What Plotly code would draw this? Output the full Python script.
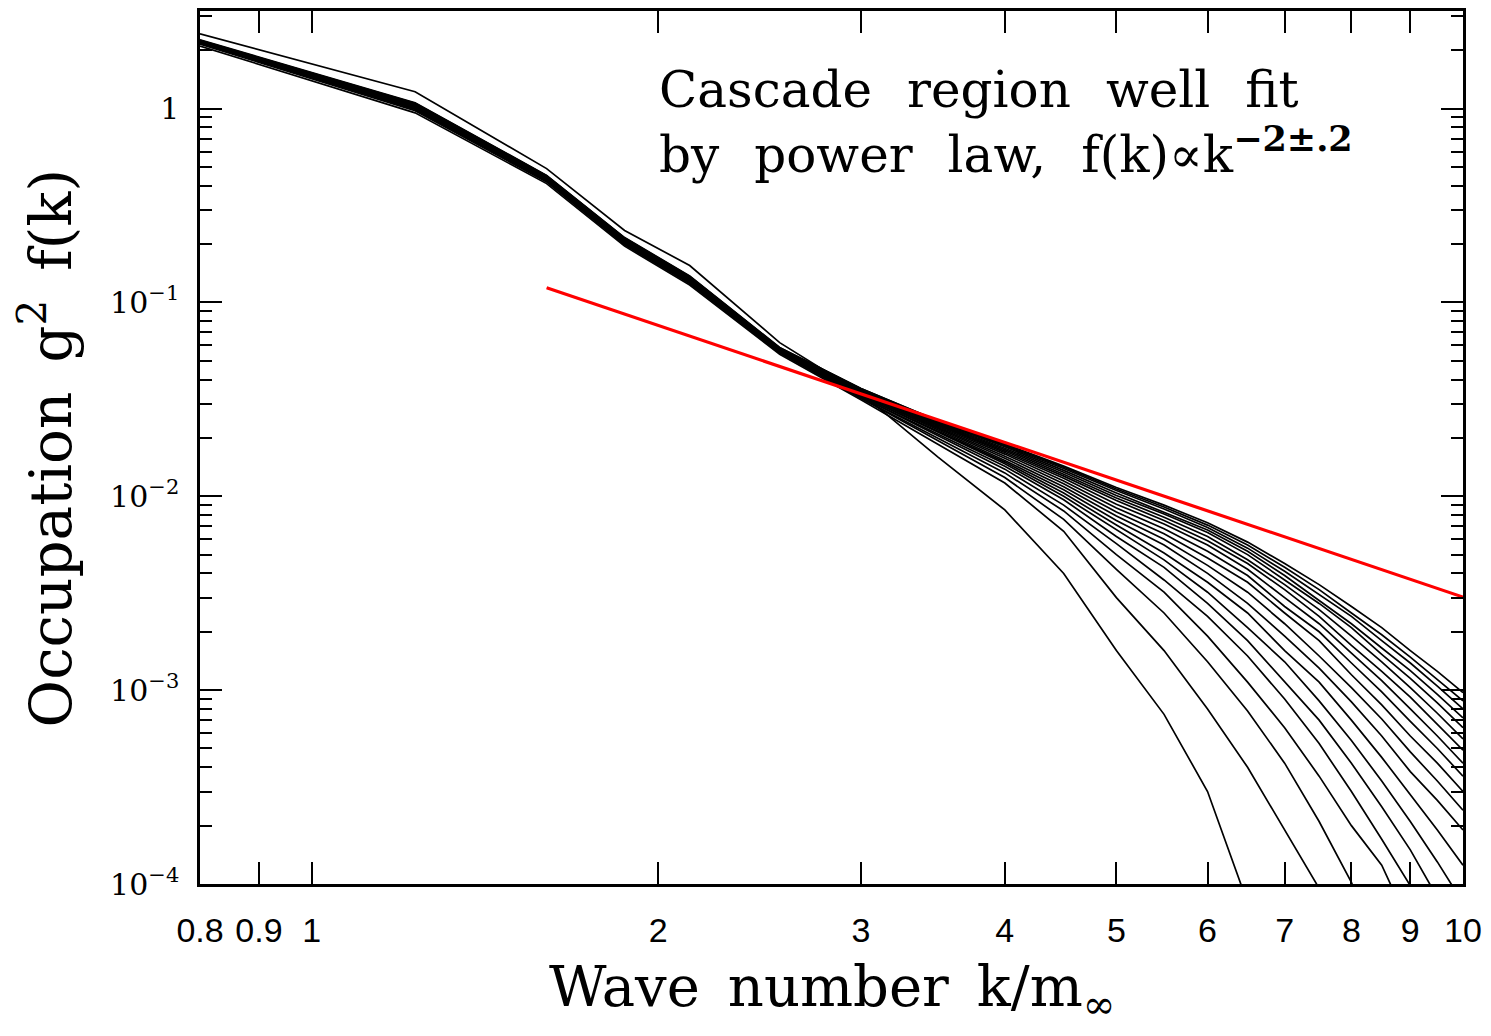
import plotly.graph_objects as go

# wave numbers k/m_inf at which the spectra are sampled
k = [0.8, 1.23, 1.6, 1.87, 2.13, 2.55, 3.0, 3.5, 4.0, 4.5, 5.0, 5.5, 6.0, 6.5,
     7.0, 7.5, 8.0, 8.5, 9.0, 9.5, 10.0]

# occupation g^2 f(k) for successive times
curve_01 = [2.26, 1.07, 0.452, 0.216, 0.137, 0.0585, 0.036, 0.0245, 0.0186, 0.0143, 0.0111, 0.0090, 0.0073, 0.0058, 0.0045, 0.0035, 0.0027, 0.0021, 0.0016, 0.00125, 0.00097]
curve_02 = [2.25, 1.065, 0.450, 0.215, 0.136, 0.0583, 0.036, 0.0244, 0.0184, 0.0141, 0.0109, 0.0088, 0.0071, 0.0056, 0.0043, 0.0033, 0.0025, 0.00193, 0.00148, 0.00114, 0.00088]
curve_03 = [2.24, 1.06, 0.448, 0.214, 0.1355, 0.058, 0.0355, 0.0242, 0.0182, 0.0139, 0.0107, 0.0086, 0.0069, 0.0054, 0.0041, 0.0031, 0.0024, 0.00180, 0.00138, 0.00105, 0.00080]
curve_04 = [2.235, 1.055, 0.446, 0.213, 0.135, 0.0578, 0.0355, 0.0240, 0.0180, 0.0136, 0.0104, 0.0083, 0.0067, 0.0052, 0.0039, 0.0029, 0.0022, 0.00165, 0.00126, 0.00095, 0.00072]
curve_05 = [2.23, 1.05, 0.444, 0.212, 0.134, 0.0576, 0.035, 0.0238, 0.0177, 0.0133, 0.0101, 0.0081, 0.0065, 0.0050, 0.0037, 0.0028, 0.0021, 0.00153, 0.00115, 0.00086, 0.00064]
curve_06 = [2.225, 1.045, 0.442, 0.211, 0.1335, 0.0574, 0.035, 0.0236, 0.0174, 0.0130, 0.0098, 0.0078, 0.0062, 0.0047, 0.0035, 0.0026, 0.0019, 0.00140, 0.00103, 0.00076, 0.00056]
curve_07 = [2.22, 1.04, 0.440, 0.210, 0.133, 0.0572, 0.0345, 0.0234, 0.0171, 0.0127, 0.0095, 0.0075, 0.0059, 0.0045, 0.0033, 0.0024, 0.0017, 0.00125, 0.00092, 0.00067, 0.00049]
curve_08 = [2.215, 1.035, 0.438, 0.209, 0.132, 0.057, 0.0345, 0.0232, 0.0168, 0.0124, 0.0091, 0.0072, 0.0056, 0.0042, 0.0030, 0.0022, 0.00155, 0.00112, 0.00080, 0.00058, 0.00042]
curve_09 = [2.21, 1.03, 0.437, 0.208, 0.1315, 0.0568, 0.034, 0.0229, 0.0165, 0.0120, 0.0087, 0.0068, 0.0052, 0.0039, 0.0027, 0.0020, 0.00138, 0.00098, 0.00069, 0.00050, 0.00036]
curve_10 = [2.205, 1.025, 0.436, 0.207, 0.131, 0.0566, 0.034, 0.0226, 0.0161, 0.0116, 0.0083, 0.0064, 0.0048, 0.0036, 0.0025, 0.0018, 0.00120, 0.00084, 0.00058, 0.00042, 0.00030]
curve_11 = [2.20, 1.02, 0.434, 0.206, 0.130, 0.0564, 0.0335, 0.0223, 0.0157, 0.0112, 0.0079, 0.0060, 0.0044, 0.0032, 0.0022, 0.0015, 0.00103, 0.00071, 0.00048, 0.00034, 0.00024]
curve_12 = [2.195, 1.015, 0.432, 0.205, 0.1295, 0.0562, 0.0335, 0.0220, 0.0153, 0.0108, 0.0075, 0.0056, 0.0040, 0.0028, 0.0019, 0.0013, 0.00087, 0.00058, 0.00038, 0.00027, 0.00019]
curve_13 = [2.19, 1.01, 0.430, 0.204, 0.129, 0.056, 0.033, 0.0216, 0.0150, 0.0104, 0.0071, 0.0051, 0.0036, 0.0025, 0.0016, 0.0011, 0.00070, 0.00045, 0.00029, 0.00019, 0.000125]
curve_14 = [2.185, 1.005, 0.428, 0.203, 0.128, 0.0558, 0.033, 0.0213, 0.0147, 0.0100, 0.0067, 0.0047, 0.0032, 0.0021, 0.0014, 0.00088, 0.00055, 0.00034, 0.00021, 0.00013, 0.00008]
curve_15 = [2.18, 1.0, 0.426, 0.202, 0.1275, 0.0556, 0.0325, 0.0210, 0.0143, 0.0096, 0.0062, 0.0043, 0.0028, 0.0018, 0.0011, 0.00070, 0.00042, 0.00025, 0.00015, 0.000085, 0.00005]
curve_16 = [2.175, 0.995, 0.424, 0.201, 0.127, 0.0554, 0.0325, 0.0206, 0.0138, 0.0090, 0.0057, 0.0037, 0.0024, 0.0015, 0.00090, 0.00053, 0.00030, 0.00017, 0.000098, 0.00005]
curve_17 = [2.17, 0.99, 0.422, 0.200, 0.126, 0.0552, 0.032, 0.0200, 0.0132, 0.0084, 0.0050, 0.0032, 0.0019, 0.0011, 0.00064, 0.00036, 0.00020, 0.000125, 0.00006]
curve_18 = [2.15, 0.975, 0.418, 0.198, 0.125, 0.055, 0.032, 0.0193, 0.0125, 0.0076, 0.0042, 0.0025, 0.0014, 0.00078, 0.00042, 0.00021, 0.000102, 0.00004]
curve_19 = [2.10, 0.950, 0.410, 0.195, 0.123, 0.054, 0.0315, 0.0185, 0.0117, 0.0066, 0.0030, 0.0016, 0.00080, 0.00040, 0.00019, 0.000095, 0.00004]
curve_20 = [2.43, 1.22, 0.490, 0.235, 0.155, 0.062, 0.034, 0.0159, 0.0085, 0.0040, 0.0016, 0.00075, 0.00030, 0.00008, 0.00002]

curves = [curve_01, curve_02, curve_03, curve_04, curve_05, curve_06, curve_07,
          curve_08, curve_09, curve_10, curve_11, curve_12, curve_13, curve_14,
          curve_15, curve_16, curve_17, curve_18, curve_19, curve_20]

# power-law fit f(k) ~ k^-2
fit_k = [1.6, 10.0]
fit_f = [0.119, 0.00302]

x_tickvals = [0.8, 0.9, 1, 2, 3, 4, 5, 6, 7, 8, 9, 10]
x_ticktext = ["0.8", "0.9", "1", "2", "3", "4", "5", "6", "7", "8", "9", "10"]
y_tickvals = [1, 0.1, 0.01, 0.001, 0.0001]
y_ticktext = ["1", "10<sup>−1</sup>", "10<sup>−2</sup>", "10<sup>−3</sup>", "10<sup>−4</sup>"]
y_minor = [m * 10.0 ** e for e in range(-4, 1) for m in range(2, 10)]

fig = go.Figure()
for c in curves:
    fig.add_trace(go.Scatter(x=k[:len(c)], y=c, mode="lines",
                             line=dict(color="black", width=1.7),
                             showlegend=False, hoverinfo="skip"))
fig.add_trace(go.Scatter(x=fit_k, y=fit_f, mode="lines",
                         line=dict(color="#ff0000", width=3.2),
                         showlegend=False, hoverinfo="skip"))

axis_common = dict(showline=True, linecolor="black", linewidth=2.5,
                   mirror="ticks", ticks="inside", tickcolor="black",
                   showgrid=False, zeroline=False)

fig.update_xaxes(type="log", range=[-0.09691, 1.0], tickmode="array",
                 tickvals=x_tickvals, ticktext=x_ticktext, ticklen=22, tickwidth=1.6,
                 tickfont=dict(family="Liberation Sans", size=34, color="black"),
                 ticklabelstandoff=14, **axis_common)
fig.update_yaxes(type="log", range=[-4, 0.503], tickmode="array",
                 tickvals=y_tickvals, ticktext=y_ticktext, ticklen=22, tickwidth=1.6,
                 tickfont=dict(family="DejaVu Serif", size=30, color="black"),
                 ticklabelstandoff=12,
                 minor=dict(tickmode="array", tickvals=y_minor, ticks="inside",
                            ticklen=12, tickwidth=1.6, tickcolor="black", showgrid=False),
                 **axis_common)

fig.add_annotation(xref="paper", yref="paper", x=0.5, y=-0.122, xanchor="center", yanchor="middle",
                   text="Wave\u2002number\u2002k/m<sub>∞</sub>", showarrow=False,
                   font=dict(family="DejaVu Serif", size=56, color="black"))
fig.add_annotation(xref="paper", yref="paper", x=-0.122, y=0.5, xanchor="center", yanchor="middle",
                   text="Occupation\u2002g<sup>2</sup>\u2002f(k)", showarrow=False, textangle=-90,
                   font=dict(family="DejaVu Serif", size=58, color="black"))
fig.add_annotation(xref="paper", yref="paper", x=0.362, y=0.945, xanchor="left", yanchor="top",
                   align="left", showarrow=False,
                   text="Cascade\u2002\u2009region\u2002\u2009well\u2002\u2009fit<br>"
                        "by\u2002\u2009power\u2002\u2009law,\u2002\u2009f(k)∝k<sup><b>−2±.2</b></sup>",
                   font=dict(family="DejaVu Serif", size=50, color="black"))

fig.update_layout(width=1483, height=1028, plot_bgcolor="white", paper_bgcolor="white",
                  margin=dict(l=192, r=28, t=0, b=152), showlegend=False)

fig.write_html("out.html")
